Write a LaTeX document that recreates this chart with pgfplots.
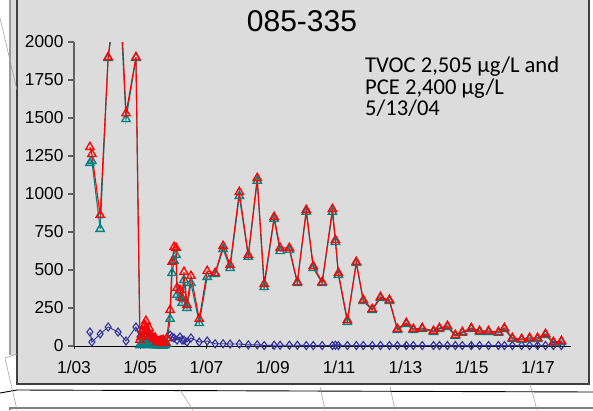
\documentclass[border=0pt]{standalone}
\usepackage{pgfplots}
\pgfplotsset{compat=1.18}
\usepackage{fontspec}
\setmainfont{Liberation Sans}
\newfontfamily\calfont{Carlito}
\definecolor{chartbg}{HTML}{DCDCDC}
\definecolor{chartborder}{HTML}{404040}
\definecolor{tvocred}{HTML}{FF0000}
\definecolor{pceteal}{HTML}{008080}
\definecolor{navyb}{HTML}{333399}
\definecolor{artline}{HTML}{9A9A9A}

\pgfplotstableread{
x y
2003.48 1309
2003.54 1263
2003.79 862
2004.03 1900
2004.36 2505
2004.57 1530
2004.87 1900
2004.99 40
2005.03 60
2005.06 105
2005.09 80
2005.13 135
2005.17 165
2005.20 110
2005.24 90
2005.27 118
2005.31 70
2005.36 60
2005.40 45
2005.45 55
2005.50 30
2005.54 26
2005.60 35
2005.65 20
2005.69 40
2005.75 20
2005.80 50
2005.90 237
2005.96 553
2006.02 651
2006.08 645
2006.11 382
2006.20 368
2006.26 316
2006.32 487
2006.41 270
2006.53 461
2006.78 178
2007.02 493
2007.26 480
2007.50 658
2007.71 533
2007.99 1013
2008.26 599
2008.53 1105
2008.74 408
2009.04 849
2009.22 645
2009.50 645
2009.74 421
2010.01 895
2010.22 526
2010.49 421
2010.80 901
2010.89 697
2010.98 480
2011.25 171
2011.52 553
2011.73 303
2012.00 243
2012.25 322
2012.52 303
2012.76 112
2013.03 151
2013.24 112
2013.51 118
2013.85 99
2014.03 118
2014.27 132
2014.51 72
2014.72 92
2014.99 118
2015.24 99
2015.51 99
2015.81 92
2015.99 118
2016.23 53
2016.51 46
2016.75 53
2016.99 53
2017.23 79
2017.47 26
2017.71 33
}\redtable

\pgfplotstableread{
x y
2003.48 1204
2003.54 1217
2003.79 770
2004.03 1895
2004.36 2400
2004.57 1493
2004.87 1895
2004.99 5
2005.03 20
2005.06 10
2005.09 30
2005.13 8
2005.17 25
2005.20 12
2005.24 5
2005.27 20
2005.31 8
2005.36 15
2005.40 5
2005.45 10
2005.50 3
2005.54 8
2005.60 3
2005.65 5
2005.69 2
2005.75 5
2005.80 15
2005.90 178
2005.96 480
2006.02 560
2006.08 599
2006.11 336
2006.20 322
2006.26 283
2006.32 434
2006.41 250
2006.53 414
2006.78 151
2007.02 454
2007.26 474
2007.50 638
2007.71 513
2007.99 987
2008.26 586
2008.53 1086
2008.74 388
2009.04 836
2009.22 625
2009.50 632
2009.74 414
2010.01 882
2010.22 513
2010.49 414
2010.80 882
2010.89 684
2010.98 467
2011.25 158
2011.52 545
2011.73 296
2012.00 236
2012.25 315
2012.52 296
2012.76 105
2013.03 145
2013.24 105
2013.51 112
2013.85 92
2014.03 112
2014.27 125
2014.51 66
2014.72 86
2014.99 112
2015.24 92
2015.51 92
2015.81 86
2015.99 112
2016.23 46
2016.51 40
2016.75 46
2016.99 46
2017.23 72
2017.47 20
2017.71 26
}\tealtable

\pgfplotstableread{
x y
2003.48 92
2003.54 26
2003.79 79
2004.03 125
2004.33 92
2004.57 33
2004.87 125
2004.99 60
2005.06 95
2005.13 70
2005.20 100
2005.27 55
2005.36 65
2005.45 45
2005.54 35
2005.65 40
2005.75 30
2005.90 72
2005.96 59
2006.02 53
2006.11 39
2006.20 59
2006.26 39
2006.32 39
2006.41 26
2006.53 53
2006.78 26
2007.02 33
2007.26 15
2007.50 15
2007.71 13
2007.99 13
2008.26 7
2008.53 8
2008.74 3
2009.04 5
2009.22 5
2009.50 5
2009.74 5
2010.01 3
2010.22 3
2010.49 3
2010.80 3
2010.89 5
2010.98 3
2011.25 3
2011.52 3
2011.73 3
2012.00 3
2012.25 3
2012.52 3
2012.76 3
2013.03 3
2013.24 3
2013.51 3
2013.85 3
2014.03 3
2014.27 3
2014.51 3
2014.72 3
2014.99 3
2015.24 3
2015.51 3
2015.81 3
2015.99 3
2016.23 3
2016.51 3
2016.75 3
2016.99 3
2017.23 3
2017.47 3
2017.71 3
}\bluetable

\begin{document}
\begin{tikzpicture}[x=1pt,y=1pt]
\useasboundingbox (0,0) rectangle (593,410);
% frame and background
\fill[white] (0,0) rectangle (593,410);
\fill[chartbg] (10,55) rectangle (17,410);
\draw[artline, line width=1.2pt] (10,55) -- (10,410);
\fill[chartbg, draw=chartborder, line width=1.3pt] (17,26) rectangle (589,411);
\draw[black, line width=0.9pt] (0,17) -- (17,20) -- (593,18);
\draw[gray, line width=1.8pt] (10,0) -- (10,2) -- (593,2);
% stray lines
\draw[artline, line width=0.5pt] (0,392) -- (17,320);
\draw[artline, line width=0.5pt] (5,52) -- (17,0);
\draw[artline, line width=0.5pt] (5,52) -- (17,56);
\draw[artline, line width=0.5pt] (180,20) -- (193,0);
\draw[artline, line width=0.5pt] (320,23) -- (325,0);
\draw[artline, line width=0.5pt] (390,23) -- (395,0);
\draw[artline, line width=0.5pt] (530,26) -- (537,0);
% title and note
\node[anchor=base, inner sep=0pt, font=\fontsize{30}{33}\selectfont] at (302,378) {085-335};
\node[anchor=base west, inner sep=0pt, font=\calfont\fontsize{22.6}{24}\selectfont] at (365,337.3) {TVOC 2,505 µg/L and};
\node[anchor=base west, inner sep=0pt, font=\calfont\fontsize{22.6}{24}\selectfont] at (365,315.8) {PCE 2,400 µg/L};
\node[anchor=base west, inner sep=0pt, font=\calfont\fontsize{22.6}{24}\selectfont] at (365,294.3) {5/13/04};
\begin{axis}[
  at={(74pt,64pt)}, anchor=south west,
  scale only axis, width=497pt, height=304pt,
  xmin=2003, xmax=2018, ymin=0, ymax=2000,
  axis lines=left,
  axis line style={-},
  x axis line style={black, line width=0.8pt},
  y axis line style={draw=gray!75!black, line width=1.6pt},
  ytick={0,250,...,2000},
  xtick={2003,2005,2007,2009,2011,2013,2015,2017},
  xticklabels={1/03,1/05,1/07,1/09,1/11,1/13,1/15,1/17},
  minor tick num=0,
  major tick length=6pt,
  ytick align=outside,
  xtick align=center,
  ytick style={draw=gray!75!black, line width=1.2pt},
  xtick style={draw=black!80, line width=0.8pt},
  tick label style={font=\fontsize{17.3}{20}\selectfont},
  /pgf/number format/assume math mode=true,
  /pgf/number format/1000 sep={},
  yticklabel style={xshift=-1pt},
  xticklabel style={yshift=-8pt},
  clip=true,
]
\addplot[navyb, line width=0.9pt, mark=diamond, mark size=4pt, mark options={solid, line width=1.1pt, fill=none}] table[x=x,y=y] {\bluetable};
\addplot[pceteal, line width=1.1pt, mark=triangle, mark size=4.8pt, mark options={solid, line width=1.3pt, fill=none}] table[x=x,y=y] {\tealtable};
\addplot[tvocred, line width=1.1pt, mark=triangle, mark size=4.8pt, mark options={solid, line width=1.3pt, fill=none}] table[x=x,y=y] {\redtable};
\end{axis}
\end{tikzpicture}
\end{document}
